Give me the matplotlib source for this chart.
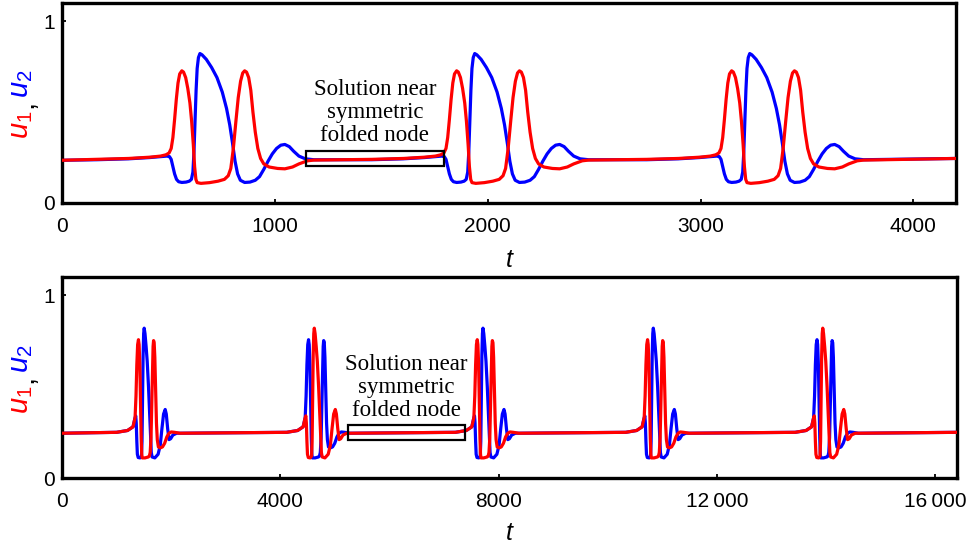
import numpy as np
import matplotlib
matplotlib.use("Agg")
import matplotlib.pyplot as plt
from matplotlib.patches import Rectangle

plt.rcParams["mathtext.fontset"] = "custom"
plt.rcParams["mathtext.rm"] = "Liberation Sans"
plt.rcParams["mathtext.it"] = "Liberation Sans:italic"

# ---------------- top panel: period ~1290, u1 always fires first ----------------
top_bursts = [563, 1854, 3146]          # time of the first u1 peak in each burst
top_leaders = ["u1", "u1", "u1"]
top_lead_tau = [-400, -250, -150, -100, -75, -60, -50, -42, -34, -26, -18, -10, 0, 8, 18, 28,
                38, 46, 54, 60, 66, 72, 90, 130, 170, 200, 218, 230, 242, 254, 265, 276, 286,
                295, 304, 314, 324, 334, 345, 357, 370, 385, 410, 450, 484, 520, 550, 590, 620]
top_lead_u = [0.240, 0.245, 0.252, 0.258, 0.265, 0.275, 0.30, 0.36, 0.46, 0.57, 0.66, 0.71,
              0.727, 0.72, 0.69, 0.63, 0.55, 0.45, 0.32, 0.20, 0.13, 0.112, 0.108, 0.112, 0.12,
              0.13, 0.15, 0.19, 0.30, 0.45, 0.58, 0.67, 0.715, 0.727, 0.72, 0.69, 0.62, 0.50,
              0.39, 0.30, 0.245, 0.215, 0.198, 0.19, 0.188, 0.198, 0.215, 0.232, 0.236]
top_follow_tau = [-400, -250, -150, -100, -70, -58, -50, -42, -34, -25, -15, 0, 20, 35, 45,
                  52, 57, 62, 67, 72, 78, 85, 95, 115, 140, 165, 190, 210, 225, 238, 250, 262,
                  275, 295, 320, 345, 365, 385, 405, 425, 445, 465, 484, 505, 525, 550, 580, 620]
top_follow_u = [0.238, 0.243, 0.250, 0.255, 0.258, 0.255, 0.24, 0.20, 0.16, 0.13, 0.117,
                0.113, 0.115, 0.12, 0.13, 0.17, 0.28, 0.45, 0.62, 0.74, 0.80, 0.822, 0.815,
                0.79, 0.745, 0.69, 0.61, 0.52, 0.43, 0.33, 0.23, 0.16, 0.125, 0.113, 0.115,
                0.125, 0.145, 0.185, 0.23, 0.27, 0.30, 0.318, 0.322, 0.31, 0.285, 0.258, 0.243,
                0.238]
top_u_start, top_u_end, top_t_end = 0.235, 0.245, 4200
top_box_t = [1146, 1793]
top_box_u = [0.204, 0.285]

# ---------------- bottom panel: period ~3110, leader alternates ----------------
bot_bursts = [1401, 4518, 7609, 10730, 13835]
bot_leaders = ["u1", "u2", "u1", "u1", "u2"]
bot_lead_tau = [-400, -200, -100, -62, -45, -30, -15, 0, 12, 25, 38, 50, 60, 68, 120, 180,
                200, 215, 230, 245, 258, 268, 277, 288, 300, 315, 330, 345, 365, 400, 440,
                480, 520, 560, 600, 660, 760]
bot_lead_u = [0.25, 0.26, 0.28, 0.33, 0.45, 0.62, 0.73, 0.757, 0.73, 0.62, 0.42, 0.22, 0.13,
              0.11, 0.11, 0.115, 0.12, 0.14, 0.22, 0.42, 0.62, 0.72, 0.752, 0.74, 0.66, 0.48,
              0.30, 0.21, 0.17, 0.165, 0.17, 0.19, 0.225, 0.245, 0.252, 0.25, 0.245]
bot_follow_tau = [-400, -200, -100, -62, -50, -40, -30, -20, -5, 30, 55, 65, 75, 85, 95, 105,
                  120, 140, 160, 184, 205, 222, 235, 250, 300, 360, 400, 430, 460, 490, 510,
                  535, 560, 590, 630, 700, 760]
bot_follow_u = [0.25, 0.26, 0.28, 0.33, 0.34, 0.30, 0.20, 0.13, 0.112, 0.11, 0.12, 0.20, 0.45,
                0.67, 0.79, 0.82, 0.79, 0.72, 0.64, 0.50, 0.35, 0.22, 0.14, 0.115, 0.11, 0.13,
                0.18, 0.27, 0.35, 0.375, 0.35, 0.27, 0.21, 0.215, 0.235, 0.245, 0.245]
bot_u_start, bot_u_end, bot_t_end = 0.245, 0.25, 16400
bot_box_t = [5248, 7389]
bot_box_u = [0.207, 0.292]


def build_series(who, bursts, leaders, lead_tau, lead_u, fol_tau, fol_u, u0, u1, t_end):
    t, u = [0.0], [u0]
    for tb, lead in zip(bursts, leaders):
        tau, val = (lead_tau, lead_u) if lead == who else (fol_tau, fol_u)
        t.extend(tb + np.asarray(tau, dtype=float))
        u.extend(val)
    t.append(t_end)
    u.append(u1)
    return np.array(t), np.array(u)


def draw_panel(ax, bursts, leaders, lead_tau, lead_u, fol_tau, fol_u, u0, u1, t_end,
               box_t, box_u, text_t, xticks, xticklabels):
    for who, color, z in (("u2", "#0000ff", 2), ("u1", "#ff0000", 3)):
        t, u = build_series(who, bursts, leaders, lead_tau, lead_u, fol_tau, fol_u,
                            u0, u1, t_end)
        ax.plot(t, u, color=color, lw=2.3, zorder=z, solid_joinstyle="round",
                solid_capstyle="round")
    ax.add_patch(Rectangle((box_t[0], box_u[0]), box_t[1] - box_t[0], box_u[1] - box_u[0],
                           fill=False, ec="black", lw=1.6, zorder=4))
    ax.text(text_t, 0.497, "Solution near\nsymmetric\nfolded node", ha="center",
            va="center", family="Liberation Serif", fontsize=16.5, linespacing=1.12)
    ax.set_xlim(0, t_end)
    ax.set_ylim(0, 1.1)
    ax.set_xticks(xticks)
    ax.set_xticklabels(xticklabels)
    ax.set_yticks([0, 1])
    ax.set_yticklabels(["0", "1"])
    ax.tick_params(direction="in", length=3, width=1.3, labelsize=15)
    ax.tick_params(axis="x", pad=10)
    ax.tick_params(axis="y", pad=5)
    for lab in ax.get_xticklabels() + ax.get_yticklabels():
        lab.set_family("Liberation Sans")
    for sp in ax.spines.values():
        sp.set_linewidth(2.4)


fig = plt.figure(figsize=(9.7, 5.46), dpi=100)
W, H = 970.0, 546.0
ax1 = fig.add_axes([62 / W, 1 - 203 / H, 894 / W, 200 / H])
ax2 = fig.add_axes([62 / W, 1 - 478 / H, 895 / W, 201 / H])

draw_panel(ax1, top_bursts, top_leaders, top_lead_tau, top_lead_u, top_follow_tau,
           top_follow_u, top_u_start, top_u_end, top_t_end, top_box_t, top_box_u, 1470,
           [0, 1000, 2000, 3000, 4000], ["0", "1000", "2000", "3000", "4000"])
draw_panel(ax2, bot_bursts, bot_leaders, bot_lead_tau, bot_lead_u, bot_follow_tau,
           bot_follow_u, bot_u_start, bot_u_end, bot_t_end, bot_box_t, bot_box_u, 6312,
           [0, 4000, 8000, 12000, 16000],
           ["0", "4000", "8000", "12\u2009000", "16\u2009000"])

# axis labels: italic t below, two-coloured u1,u2 on the left
for ax, ty in ((ax1, 260), (ax2, 533)):
    fig.text(509 / W, 1 - ty / H, "t", ha="center", va="center", fontsize=18,
             family="Liberation Sans", style="italic")
for off in (0, 275):
    fig.text(21 / W, 1 - (125 + off) / H, r"$u_1$", color="#ff0000", rotation=90,
             ha="center", va="center", fontsize=21)
    fig.text(24 / W, 1 - (104 + off) / H, ",", color="black", rotation=90,
             ha="center", va="center", fontsize=21, family="Liberation Sans")
    fig.text(21 / W, 1 - (84 + off) / H, r"$u_2$", color="#0000ff", rotation=90,
             ha="center", va="center", fontsize=21)

fig.savefig("out.png", dpi=100)
